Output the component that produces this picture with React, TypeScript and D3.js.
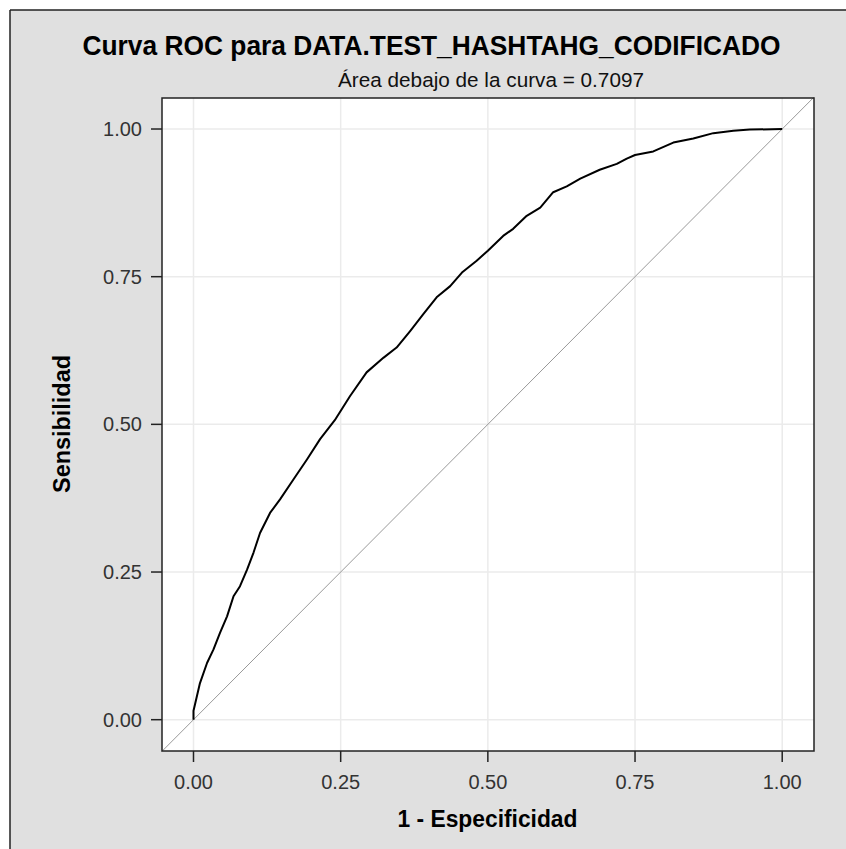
import React from "react";
import * as d3 from "d3";

const fpr = [0, 0, 0.003, 0.011, 0.023, 0.034, 0.045, 0.057, 0.068, 0.079, 0.091, 0.102, 0.113, 0.130, 0.147, 0.170, 0.193, 0.215, 0.240, 0.266, 0.294, 0.323, 0.345, 0.368, 0.390, 0.413, 0.436, 0.456, 0.481, 0.500, 0.526, 0.543, 0.566, 0.589, 0.611, 0.634, 0.657, 0.690, 0.719, 0.736, 0.750, 0.781, 0.815, 0.849, 0.883, 0.917, 0.945, 1.0];
const tpr = [0, 0.015, 0.028, 0.062, 0.096, 0.119, 0.147, 0.175, 0.209, 0.226, 0.254, 0.283, 0.316, 0.350, 0.373, 0.407, 0.441, 0.475, 0.507, 0.548, 0.588, 0.613, 0.630, 0.658, 0.686, 0.715, 0.734, 0.757, 0.777, 0.794, 0.819, 0.831, 0.853, 0.867, 0.893, 0.903, 0.916, 0.931, 0.941, 0.950, 0.956, 0.962, 0.977, 0.984, 0.993, 0.997, 0.999, 1.0];
const tickValues = [0, 0.25, 0.5, 0.75, 1.0];
const tickLabels = ["0.00", "0.25", "0.50", "0.75", "1.00"];
const title = "Curva ROC para DATA.TEST_HASHTAHG_CODIFICADO";
const subtitle = "Área debajo de la curva = 0.7097";
const xLabel = "1 - Especificidad";
const yLabel = "Sensibilidad";
const domainMin = -0.0535;
const domainMax = 1.054;

export default function App() {
  const left = 162, right = 814, top = 98, bottom = 751;
  const x = d3.scaleLinear().domain([domainMin, domainMax]).range([left, right]);
  const y = d3.scaleLinear().domain([-0.053, 1.0525]).range([bottom, top]);
  const pts: [number, number][] = fpr.map((f, i) => [f, tpr[i]]);
  const line = d3.line<[number, number]>().x(d => x(d[0])).y(d => y(d[1]));
  const font = "'Liberation Sans', Arial, sans-serif";
  return (
    <svg width={846} height={849} style={{ position: "fixed", left: 0, top: 0, display: "block" }} fontFamily={font}>
      <rect x={0} y={0} width={846} height={849} fill="#ffffff" />
      <rect x={10} y={10} width={836} height={839} fill="#e0e0e0" />
      <line x1={10} y1={10} x2={846} y2={10} stroke="#222" strokeWidth={1.5} />
      <line x1={10} y1={10} x2={10} y2={849} stroke="#222" strokeWidth={1.5} />
      <text x={431.5} y={55} textAnchor="middle" fontSize={28} fontWeight="bold" fill="#000" textLength={698} lengthAdjust="spacingAndGlyphs">{title}</text>
      <text x={491} y={87} textAnchor="middle" fontSize={20.5} fill="#111" textLength={306} lengthAdjust="spacingAndGlyphs">{subtitle}</text>
      <rect x={left} y={top} width={right - left} height={bottom - top} fill="#ffffff" />
      {tickValues.map((t, i) => (
        <g key={"g" + i}>
          <line x1={x(t)} x2={x(t)} y1={top} y2={bottom} stroke="#ebebeb" strokeWidth={1.5} />
          <line x1={left} x2={right} y1={y(t)} y2={y(t)} stroke="#ebebeb" strokeWidth={1.5} />
        </g>
      ))}
      <line x1={x(domainMin)} y1={y(domainMin)} x2={x(domainMax)} y2={y(domainMax)} stroke="#999" strokeWidth={1} />
      <path d={line(pts) || ""} fill="none" stroke="#000" strokeWidth={2} strokeLinejoin="round" />
      <rect x={left} y={top} width={right - left} height={bottom - top} fill="none" stroke="#222" strokeWidth={1.5} />
      {tickValues.map((t, i) => (
        <g key={"t" + i}>
          <line x1={x(t)} x2={x(t)} y1={bottom} y2={bottom + 11} stroke="#222" strokeWidth={1.5} />
          <text x={x(t)} y={789} textAnchor="middle" fontSize={20} fill="#333">{tickLabels[i]}</text>
          <line x1={left - 11} x2={left} y1={y(t)} y2={y(t)} stroke="#222" strokeWidth={1.5} />
          <text x={142} y={y(t) + 7} textAnchor="end" fontSize={20} fill="#333">{tickLabels[i]}</text>
        </g>
      ))}
      <text x={487.5} y={827} textAnchor="middle" fontSize={23} fontWeight="bold" fill="#000" textLength={180} lengthAdjust="spacingAndGlyphs">{xLabel}</text>
      <text transform={`translate(70,424) rotate(-90)`} textAnchor="middle" fontSize={23} fontWeight="bold" fill="#000" textLength={138} lengthAdjust="spacingAndGlyphs">{yLabel}</text>
    </svg>
  );
}
